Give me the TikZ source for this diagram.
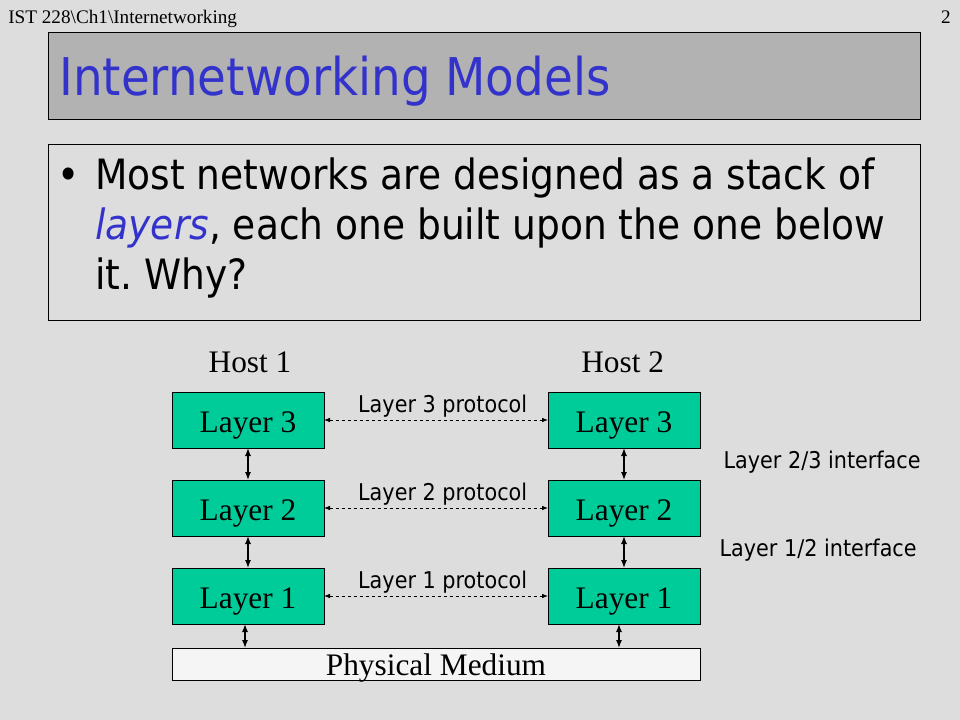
\documentclass[tikz,border=0pt]{standalone}
\usepackage{fontspec}
\setmainfont{Liberation Serif}
\setsansfont[FakeStretch=0.9]{DejaVu Sans}
\usepackage{xcolor}
\usetikzlibrary{arrows.meta,positioning}
\definecolor{slidebg}{RGB}{221,221,221}
\definecolor{titlegray}{RGB}{178,178,178}
\definecolor{stackgreen}{RGB}{0,204,153}
\definecolor{titleblue}{RGB}{51,51,204}
\definecolor{mediumfill}{RGB}{245,245,245}
\frenchspacing

\begin{document}
\begin{tikzpicture}[x=0.75pt,y=-0.75pt,node distance=24pt and 168pt,
  >={Latex[length=5pt,width=3.5pt]}]
  \tikzstyle{layerbox}=[draw,line width=0.75pt,fill=stackgreen,minimum width=114pt,minimum height=42pt,inner sep=0pt,outer sep=0pt,text height=18pt,text depth=0pt,font=\fontsize{23.5}{26}\selectfont]
  \tikzstyle{mediumbox}=[draw,line width=0.75pt,fill=mediumfill,minimum width=396pt,minimum height=24pt,inner sep=0pt,outer sep=0pt,text height=16.5pt,text depth=0pt,font=\fontsize{23.5}{26}\selectfont]
  \tikzstyle{hostlabel}=[inner sep=0pt,font=\fontsize{23.5}{26}\selectfont]
  \tikzstyle{smalllabel}=[inner sep=1pt,font=\sffamily\fontsize{17.3}{20}\selectfont]
  \tikzstyle{peer}=[{Latex[length=4.5pt,width=3.5pt]}-{Latex[length=4.5pt,width=3.5pt]},dash pattern=on 2.5pt off 2pt,line width=0.6pt]
  \tikzstyle{updown}=[{Latex[length=6pt,width=4.5pt]}-{Latex[length=6pt,width=4.5pt]},line width=0.9pt]
  \useasboundingbox (0,0) rectangle (960,720);
  \fill[slidebg] (0,0) rectangle (960,720);
  % header and title
  \node[anchor=base west,inner sep=0pt,font=\fontsize{14.4}{16}\selectfont] (path) at (8,24) {IST 228\textbackslash Ch1\textbackslash Internetworking};
  \node[anchor=base east,inner sep=0pt,font=\fontsize{14.4}{16}\selectfont] (pageno) at (951,24) {2};
  \node[draw,line width=0.75pt,fill=titlegray,anchor=north west,minimum width=654pt,minimum height=65.25pt,outer sep=0pt] (titlebox) at (48,33) {};
  \node[anchor=base west,inner sep=0pt,text=titleblue,font=\sffamily\fontsize{39}{44}\selectfont] (title) at (59,96) {Internetworking Models};
  % bullet text
  \node[draw,line width=0.75pt,anchor=north west,minimum width=654pt,minimum height=131.25pt,outer sep=0pt] (bulletbox) at (48,145) {};
  \node[anchor=base west,inner sep=0pt,font=\sffamily\fontsize{31.3}{37.5}\selectfont] (bullet) at (57,190) {•};
  \node[anchor=north west,inner sep=0pt,align=left,font=\sffamily\fontsize{31.3}{37.5}\selectfont] (bullettext) at (95,158)
    {Most networks are designed as a stack of\\\textcolor{titleblue}{\itshape layers}, each one built upon the one below\\it. Why?};
  % the two stacks
  \node[layerbox] (h1l3) at (248,420) {Layer 3};
  \node[layerbox,below=of h1l3] (h1l2) {Layer 2};
  \node[layerbox,below=of h1l2] (h1l1) {Layer 1};
  \node[layerbox,right=of h1l3] (h2l3) {Layer 3};
  \node[layerbox,right=of h1l2] (h2l2) {Layer 2};
  \node[layerbox,right=of h1l1] (h2l1) {Layer 1};
  \node[hostlabel,above=14pt of h1l3,xshift=1.5pt] (host1) {Host 1};
  \node[hostlabel,above=14pt of h2l3,xshift=-1pt] (host2) {Host 2};
  \node[mediumbox] (medium) at (436,664) {Physical Medium};
  \draw[updown] (h1l3) -- (h1l2);
  \draw[updown] (h1l2) -- (h1l1);
  \draw[updown] (h2l3) -- (h2l2);
  \draw[updown] (h2l2) -- (h2l1);
  \draw[updown] ([xshift=-2.25pt]h1l1.south) -- ([xshift=-2.25pt]h1l1.south |- medium.north);
  \draw[updown] ([xshift=-3.75pt]h2l1.south) -- ([xshift=-3.75pt]h2l1.south |- medium.north);
  \draw[peer] (h1l3) -- node[smalllabel,above=1pt,xshift=5pt] (proto3) {Layer 3 protocol} (h2l3);
  \draw[peer] (h1l2) -- node[smalllabel,above=1pt,xshift=5pt] (proto2) {Layer 2 protocol} (h2l2);
  \draw[peer] (h1l1) -- node[smalllabel,above=1pt,xshift=5pt] (proto1) {Layer 1 protocol} (h2l1);
  \node[smalllabel,anchor=west] (if23) at (722,462) {Layer 2/3 interface};
  \node[smalllabel,anchor=west] (if12) at (718,550) {Layer 1/2 interface};
\end{tikzpicture}
\end{document}
